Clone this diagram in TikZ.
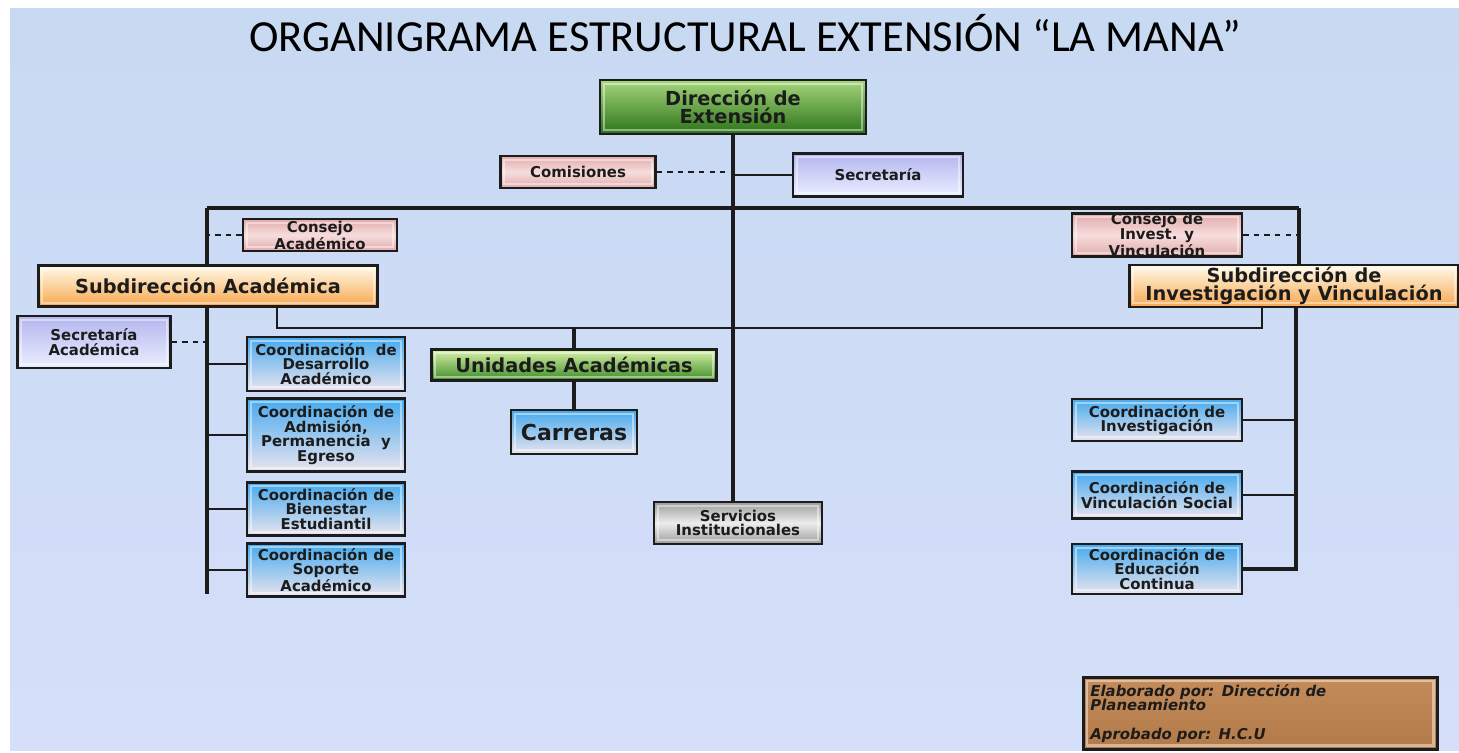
\documentclass[tikz,border=0pt]{standalone}
\usepackage{fontspec}
\usepackage{xcolor}
\usepackage{tikz}
\usetikzlibrary{positioning, calc}
\newfontfamily\titlefont{Carlito}
\newfontfamily\boxfont{DejaVu Sans}
\definecolor{bgTop}{HTML}{C8D9F2}
\definecolor{bgBot}{HTML}{D5DFFA}
\definecolor{frameDark}{HTML}{1C1C1C}
\definecolor{grnTop}{HTML}{A6D67C}
\definecolor{grnBot}{HTML}{2C7319}
\definecolor{grnLight}{HTML}{D8F2A8}
\definecolor{grnMid}{HTML}{3E8C26}
\definecolor{orgTop}{HTML}{FFFBEA}
\definecolor{orgBot}{HTML}{F7A64E}
\definecolor{pnkEdge}{HTML}{E2AAAA}
\definecolor{pnkMid}{HTML}{F7DDDD}
\definecolor{lavTop}{HTML}{B4B6EE}
\definecolor{lavBot}{HTML}{EAEEFF}
\definecolor{bluTop}{HTML}{45AAEE}
\definecolor{bluBot}{HTML}{EAE4EE}
\definecolor{svrEdge}{HTML}{9C9C9C}
\definecolor{svrMid}{HTML}{EDEDED}
\definecolor{cork}{HTML}{C48C5A}
\definecolor{corkDark}{HTML}{B27A48}
\def\px{0.02cm}

\begin{document}
\begin{tikzpicture}[x=0.02cm, y=-0.02cm,
    every node/.style={font=\boxfont\bfseries, text=frameDark},
    sz/.style 2 args={minimum width=#1*\px, minimum height=#2*\px},
    orgbox/.style={
        rectangle, draw=frameDark, line width=1.5pt,
        inner sep=0pt, align=center,
        path picture={
            \draw[white, opacity=0.45, line width=1.2pt]
                ($(path picture bounding box.south west)+(2.2pt,2.2pt)$) rectangle
                ($(path picture bounding box.north east)+(-2.2pt,-2.2pt)$);
        },
    },
    greenbox/.style={orgbox, top color=grnTop, bottom color=grnBot,
        font=\boxfont\bfseries\fontsize{11}{10.5}\selectfont},
    unitbox/.style={orgbox, top color=grnLight, bottom color=grnMid,
        font=\boxfont\bfseries\fontsize{11}{10.5}\selectfont},
    subbox/.style={orgbox, top color=orgTop, bottom color=orgBot,
        font=\boxfont\bfseries\fontsize{11}{10.5}\selectfont},
    pinkbox/.style={orgbox, top color=pnkEdge, bottom color=pnkEdge,
        middle color=pnkMid, font=\boxfont\bfseries\fontsize{8.5}{8.3}\selectfont},
    lavbox/.style={orgbox, top color=lavTop, bottom color=lavBot,
        font=\boxfont\bfseries\fontsize{8.5}{8.3}\selectfont},
    coordbox/.style={orgbox, top color=bluTop, bottom color=bluBot,
        font=\boxfont\bfseries\fontsize{8.5}{8.3}\selectfont},
    silverbox/.style={orgbox, top color=svrEdge, bottom color=svrEdge,
        middle color=svrMid, font=\boxfont\bfseries\fontsize{8.5}{8.3}\selectfont},
    mainline/.style={draw=frameDark, line width=2pt},
    thinline/.style={draw=frameDark, line width=0.9pt},
    dashline/.style={draw=frameDark, line width=0.9pt, dashed},
]

% ── Page and background ───────────────────────────────────────────────
\useasboundingbox (0,0) rectangle (1459,752);
\fill[top color=bgTop, bottom color=bgBot] (10,8) rectangle (1459,750);
\node[font=\titlefont\fontsize{25.3}{27}\selectfont, text=black] (title) at (745,33)
    {ORGANIGRAMA ESTRUCTURAL EXTENSIÓN “LA MANA”};

% ── Top level ─────────────────────────────────────────────────────────
\node[greenbox, sz={266}{54}] (dir) at (733,107) {Dirección de\\Extensión};
\node[pinkbox, sz={155}{32}] (com) at (578,172) {Comisiones};
\node[lavbox, sz={170}{43}] (sec) at (878,175) {Secretaría};

\coordinate (barL) at (207,208);
\coordinate (barR) at (1299,208);
\draw[mainline] (barL) -- (barR);
\draw[mainline] (dir.south) -- (dir.south |- 0,502);
\draw[dashline] (com.east) -- (com.east -| dir.south);
\draw[thinline] (dir.south |- sec.west) -- (sec.west);

% ── Left branch: Subdirección Académica ───────────────────────────────
\node[pinkbox, sz={154}{32}] (conA) at (320,235) {Consejo\\Académico};
\node[subbox, sz={339}{41}] (subA) at (208,286) {Subdirección Académica};
\node[lavbox, sz={153}{52}] (secA) at (94,342) {Secretaría\\Académica};

\node[coordbox, sz={158}{54}] (cda) at (326,364) {Coordinación~~de\\Desarrollo\\Académico};
\node[coordbox, sz={158}{73}] (cap) at (326,435) {Coordinación de\\Admisión,\\Permanencia~~y\\Egreso};
\node[coordbox, sz={158}{53}] (cbe) at (326,509) {Coordinación de\\Bienestar\\Estudiantil};
\node[coordbox, sz={158}{53}] (cso) at (326,570) {Coordinación de\\Soporte\\Académico};

\draw[mainline] (barL) -- (barL |- subA.north);
\draw[mainline] (barL |- subA.south) -- (barL |- 0,594);
\draw[dashline] (conA.west) -- (conA.west -| barL);
\draw[dashline] (secA.east) -- (secA.east -| barL);
\foreach \c in {cda, cap, cbe, cso}
    \draw[thinline] (\c.west -| barL) -- (\c.west);

% ── Centre: Unidades Académicas and Servicios ─────────────────────────
\node[unitbox, sz={285}{31}] (uni) at (574,365) {Unidades Académicas};
\node[coordbox, sz={126}{44}, font=\boxfont\bfseries\fontsize{12.5}{13}\selectfont]
    (car) at (574,432) {Carreras};
\node[silverbox, sz={168}{42}] (ser) at (738,523) {Servicios\\Institucionales};
\draw[mainline] (uni.south) -- (car.north);

% ── Right branch: Subdirección de Investigación y Vinculación ─────────
\node[pinkbox, sz={170}{43}] (conI) at (1157,235) {Consejo de\\Invest. y\\Vinculación};
\node[subbox, sz={329}{42}] (subI) at (1294,286) {Subdirección de\\Investigación y Vinculación};

\node[coordbox, sz={170}{42}] (cin) at (1157,420) {Coordinación de\\Investigación};
\node[coordbox, sz={170}{47}] (cvs) at (1157,495) {Coordinación de\\Vinculación Social};
\node[coordbox, sz={170}{50}] (cec) at (1157,569) {Coordinación de\\Educación\\Continua};

\draw[mainline] (barR) -- (barR |- subI.north);
\draw[dashline] (conI.east) -- (conI.east -| barR);
\coordinate (rtop) at (1296,307);
\draw[mainline] (rtop) |- (cec.east);
\draw[thinline] (cin.east) -- (cin.east -| rtop);
\draw[thinline] (cvs.east) -- (cvs.east -| rtop);

% ── Link between both Subdirecciones ──────────────────────────────────
\coordinate (linkA) at (277,306);
\coordinate (linkI) at (1262,307);
\draw[line width=1.4pt, draw=frameDark] (linkA) -- ++(0,22) -| (linkI);
\draw[mainline] (uni.north) -- (uni.north |- 0,328);

% ── Footer ────────────────────────────────────────────────────────────
\node[orgbox, top color=cork, bottom color=corkDark, sz={350}{72},
      align=left, anchor=north west, text width=340*\px, inner xsep=4pt,
      font=\boxfont\bfseries\itshape\fontsize{8.5}{8.3}\selectfont] (foot) at (1082,676)
    {Elaborado por: Dirección de\\Planeamiento\\[8pt]Aprobado por: H.C.U};

\end{tikzpicture}
\end{document}
